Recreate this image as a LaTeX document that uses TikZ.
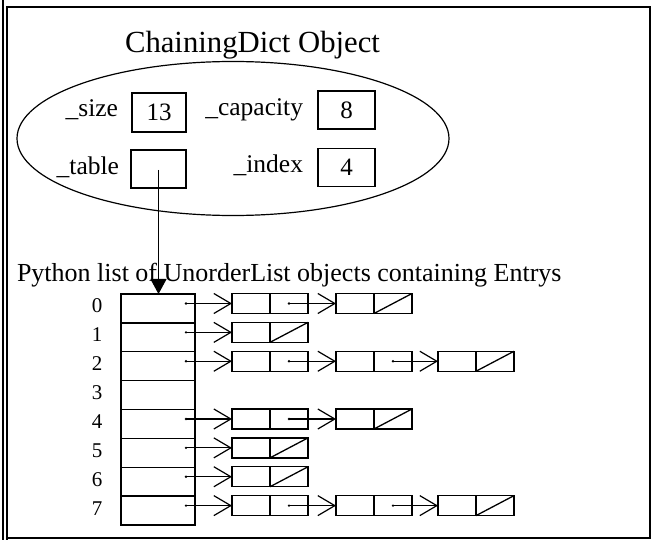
\documentclass[tikz,border=0pt]{standalone}
\usepackage{fontspec}
\setmainfont{Liberation Serif}
\usetikzlibrary{arrows.meta,shapes.geometric}
\begin{document}
\begin{tikzpicture}[x=1pt,y=-1pt,
  every node/.style={inner sep=0pt, outer sep=0pt},
  frameline/.style={line width=1.1pt},
  objshape/.style={draw, ellipse, line width=1.2pt, minimum width=432pt, minimum height=154pt},
  valbox/.style={draw, line width=1.3pt, minimum width=55pt, minimum height=38pt, font=\fontsize{25}{30}\selectfont},
  fieldlbl/.style={anchor=base east, font=\fontsize{25.5}{30}\selectfont},
  rowbox/.style={draw, line width=1.3pt, minimum width=74pt, minimum height=28.875pt, anchor=north west},
  idxlbl/.style={font=\fontsize{21}{25}\selectfont},
  entrycell/.style={draw, line width=1.3pt, minimum width=38pt, minimum height=20pt, anchor=west},
  ptr/.style={line width=1.1pt, -{Straight Barb[length=17pt,width=20pt,line width=1.2pt]}},
  tblptr/.style={line width=1.1pt, -{Triangle[length=15pt,width=16pt]}},
  ptrdot/.style={fill=black},
  nullline/.style={line width=1.3pt}
]
\useasboundingbox (0,0) rectangle (654,540);
% frame
\draw[frameline] (7,540) -- (7,7) -- (650,7) -- (650,538) -- (7,538);
\draw[frameline] (3,0) -- (3,540);
% dict object
\node[anchor=base, font=\fontsize{30.7}{36}\selectfont] (title) at (252.5,53) {ChainingDict Object};
\node[objshape] (obj) at (233,138.5) {};
\node[fieldlbl] (lsize) at (118,117) {\_size};
\node[valbox, minimum width=54pt, minimum height=39pt] (vsize) at (159,112.5) {13};
\node[fieldlbl] (lcap) at (303,116) {\_capacity};
\node[valbox, minimum width=57pt] (vcap) at (346.5,110) {8};
\node[fieldlbl] (ltable) at (119,175) {\_table};
\node[valbox] (vtable) at (158.5,169) {};
\node[fieldlbl] (lindex) at (303,173) {\_index};
\node[valbox, minimum width=57pt] (vindex) at (346.5,167.5) {4};
% caption
\node[anchor=base west, font=\fontsize{26}{30}\selectfont] (caption) at (17,282) {Python list of UnorderList objects containing Entrys};
% python list
\foreach \r in {0,...,7} {
  \pgfmathsetmacro\ytop{294+28.875*\r}
  \node[rowbox] (row\r) at (121,\ytop) {};
  \node[idxlbl] (idx\r) at (97,\ytop+12) {\r};
  \coordinate (s\r) at (186,\ytop+9.5);
}
\coordinate (tp) at (158.5,170);
\draw[tblptr] (tp) -- (row0.north -| tp);
% entries
\foreach \r/\n in {0/2,1/1,2/3,4/2,5/1,6/1,7/3} {
  \pgfmathsetmacro\yc{294+28.875*\r+9.5}
  \foreach \c/\xl in {1/232,2/336,3/438} {
    \ifnum\c>\n\relax\else
      \node[entrycell] (k\r\c) at (\xl,\yc) {};
      \node[entrycell] (p\r\c) at (k\r\c.east) {};
    \fi
  }
  \fill[ptrdot] (s\r) circle (1.3pt);
  \draw[ptr] (s\r) -- (k\r1.west);
  \draw[nullline] (p\r\n.south west) -- (p\r\n.north east);
}
% links between entries
\foreach \a/\b in {01/02, 21/22, 22/23, 41/42, 71/72, 72/73} {
  \fill[ptrdot] (p\a.center) circle (1.3pt);
  \draw[ptr] (p\a.center) -- (k\b.west);
}
\end{tikzpicture}
\end{document}
